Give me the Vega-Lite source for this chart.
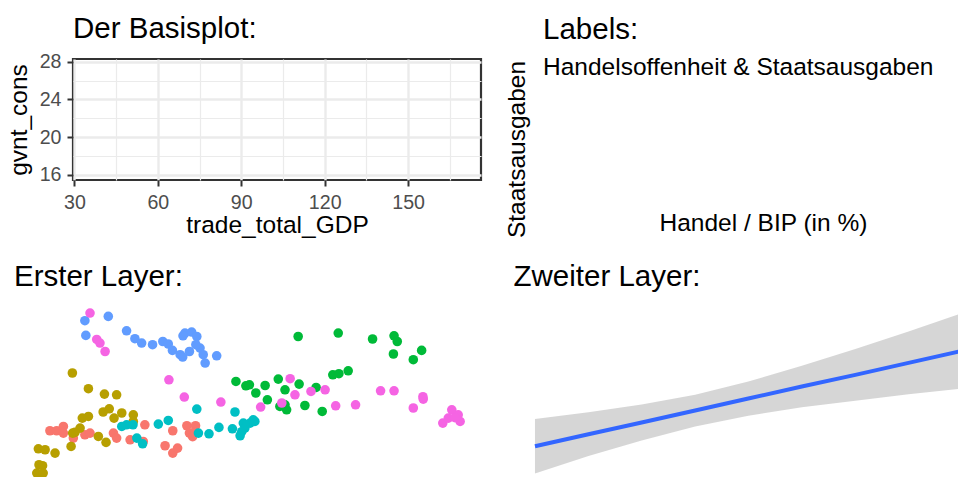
{
  "$schema": "https://vega.github.io/schema/vega-lite/v6.json",
  "padding": {"left": 5, "top": 13, "right": 0, "bottom": 0},
  "background": "white",
  "config": {
    "font": "Liberation Sans",
    "view": {"stroke": null},
    "title": {"fontSize": 29.5, "fontWeight": "normal", "color": "black", "anchor": "start", "frame": "group", "offset": 13, "subtitleFontSize": 24.5, "subtitleColor": "black", "subtitlePadding": 11, "subtitleFont": "Liberation Sans"},
    "axis": {"titleFontWeight": "normal", "titleFontSize": 24.5, "titleColor": "black"}
  },
  "datasets": {
    "pts": [
      {"land": "A", "trade": 40.7, "gov": 19.22}, {"land": "A", "trade": 42.8, "gov": 19.22}, {"land": "A", "trade": 44.9, "gov": 19.53}, {"land": "A", "trade": 44.9, "gov": 19.05}, {"land": "A", "trade": 48.0, "gov": 18.69}, {"land": "A", "trade": 51.6, "gov": 18.93}, {"land": "A", "trade": 53.2, "gov": 19.05}, {"land": "A", "trade": 60.5, "gov": 19.05}, {"land": "A", "trade": 61.5, "gov": 18.69}, {"land": "A", "trade": 65.7, "gov": 18.57}, {"land": "A", "trade": 70.3, "gov": 19.65}, {"land": "A", "trade": 69.8, "gov": 18.45}, {"land": "A", "trade": 79.0, "gov": 19.22}, {"land": "A", "trade": 76.6, "gov": 18.14}, {"land": "A", "trade": 79.0, "gov": 17.61}, {"land": "A", "trade": 80.5, "gov": 17.97}, {"land": "A", "trade": 83.4, "gov": 19.58}, {"land": "A", "trade": 86.1, "gov": 19.58}, {"land": "A", "trade": 84.2, "gov": 19.05}, {"land": "A", "trade": 85.2, "gov": 18.79}, {"land": "A", "trade": 85.9, "gov": 19.15},
      {"land": "B", "trade": 47.7, "gov": 23.38}, {"land": "B", "trade": 52.7, "gov": 22.25}, {"land": "B", "trade": 57.7, "gov": 21.86}, {"land": "B", "trade": 61.5, "gov": 21.81}, {"land": "B", "trade": 57.3, "gov": 20.57}, {"land": "B", "trade": 59.2, "gov": 20.80}, {"land": "B", "trade": 50.8, "gov": 20.13}, {"land": "B", "trade": 52.7, "gov": 20.25}, {"land": "B", "trade": 63.1, "gov": 20.50}, {"land": "B", "trade": 60.7, "gov": 20.13}, {"land": "B", "trade": 66.7, "gov": 20.37}, {"land": "B", "trade": 66.7, "gov": 19.89}, {"land": "B", "trade": 50.1, "gov": 19.41}, {"land": "B", "trade": 48.5, "gov": 19.10}, {"land": "B", "trade": 47.8, "gov": 19.05}, {"land": "B", "trade": 55.8, "gov": 18.81}, {"land": "B", "trade": 58.2, "gov": 18.38}, {"land": "B", "trade": 47.3, "gov": 18.09}, {"land": "B", "trade": 37.1, "gov": 17.92}, {"land": "B", "trade": 39.2, "gov": 17.85}, {"land": "B", "trade": 42.3, "gov": 17.61}, {"land": "B", "trade": 37.3, "gov": 16.77}, {"land": "B", "trade": 38.4, "gov": 16.70}, {"land": "B", "trade": 36.6, "gov": 16.17}, {"land": "B", "trade": 38.6, "gov": 16.17},
      {"land": "C", "trade": 98.7, "gov": 22.77}, {"land": "C", "trade": 101.8, "gov": 22.46}, {"land": "C", "trade": 102.9, "gov": 22.53}, {"land": "C", "trade": 104.9, "gov": 21.94}, {"land": "C", "trade": 107.8, "gov": 22.48}, {"land": "C", "trade": 108.5, "gov": 21.45}, {"land": "C", "trade": 111.9, "gov": 22.94}, {"land": "C", "trade": 114.0, "gov": 22.17}, {"land": "C", "trade": 118.4, "gov": 22.58}, {"land": "C", "trade": 118.1, "gov": 26.01}, {"land": "C", "trade": 123.7, "gov": 22.34}, {"land": "C", "trade": 112.4, "gov": 20.97}, {"land": "C", "trade": 114.0, "gov": 21.09}, {"land": "C", "trade": 114.5, "gov": 20.73}, {"land": "C", "trade": 120.2, "gov": 21.04}, {"land": "C", "trade": 125.6, "gov": 20.61}, {"land": "C", "trade": 128.9, "gov": 23.25}, {"land": "C", "trade": 130.8, "gov": 23.33}, {"land": "C", "trade": 133.7, "gov": 23.54}, {"land": "C", "trade": 130.6, "gov": 26.26}, {"land": "C", "trade": 141.3, "gov": 25.83}, {"land": "C", "trade": 148.0, "gov": 26.06}, {"land": "C", "trade": 149.0, "gov": 25.65}, {"land": "C", "trade": 147.8, "gov": 24.75}, {"land": "C", "trade": 154.0, "gov": 24.34}, {"land": "C", "trade": 156.6, "gov": 25.01},
      {"land": "D", "trade": 63.1, "gov": 19.53}, {"land": "D", "trade": 64.6, "gov": 19.65}, {"land": "D", "trade": 66.6, "gov": 19.65}, {"land": "D", "trade": 67.8, "gov": 18.69}, {"land": "D", "trade": 69.6, "gov": 18.28}, {"land": "D", "trade": 74.5, "gov": 19.70}, {"land": "D", "trade": 77.6, "gov": 19.96}, {"land": "D", "trade": 86.5, "gov": 20.78}, {"land": "D", "trade": 87.0, "gov": 19.05}, {"land": "D", "trade": 90.3, "gov": 19.00}, {"land": "D", "trade": 93.4, "gov": 19.46}, {"land": "D", "trade": 97.6, "gov": 19.36}, {"land": "D", "trade": 98.4, "gov": 20.57}, {"land": "D", "trade": 100.0, "gov": 18.86}, {"land": "D", "trade": 101.0, "gov": 19.77}, {"land": "D", "trade": 101.5, "gov": 19.41}, {"land": "D", "trade": 103.1, "gov": 19.77}, {"land": "D", "trade": 104.1, "gov": 20.01}, {"land": "D", "trade": 104.6, "gov": 19.89}, {"land": "D", "trade": 100.5, "gov": 19.15},
      {"land": "E", "trade": 51.6, "gov": 27.15}, {"land": "E", "trade": 58.9, "gov": 27.46}, {"land": "E", "trade": 51.9, "gov": 26.09}, {"land": "E", "trade": 64.6, "gov": 26.42}, {"land": "E", "trade": 67.2, "gov": 25.85}, {"land": "E", "trade": 69.3, "gov": 25.54}, {"land": "E", "trade": 72.7, "gov": 25.42}, {"land": "E", "trade": 75.9, "gov": 25.65}, {"land": "E", "trade": 77.6, "gov": 25.47}, {"land": "E", "trade": 78.9, "gov": 25.01}, {"land": "E", "trade": 81.3, "gov": 24.70}, {"land": "E", "trade": 82.1, "gov": 24.53}, {"land": "E", "trade": 84.2, "gov": 24.93}, {"land": "E", "trade": 82.8, "gov": 26.26}, {"land": "E", "trade": 84.9, "gov": 26.33}, {"land": "E", "trade": 86.5, "gov": 26.01}, {"land": "E", "trade": 82.2, "gov": 26.06}, {"land": "E", "trade": 87.5, "gov": 25.18}, {"land": "E", "trade": 88.5, "gov": 24.70}, {"land": "E", "trade": 89.1, "gov": 24.10}, {"land": "E", "trade": 92.7, "gov": 24.62}, {"land": "E", "trade": 86.2, "gov": 25.42},
      {"land": "F", "trade": 53.2, "gov": 27.70}, {"land": "F", "trade": 55.3, "gov": 25.80}, {"land": "F", "trade": 56.3, "gov": 25.54}, {"land": "F", "trade": 57.9, "gov": 24.93}, {"land": "F", "trade": 77.8, "gov": 22.89}, {"land": "F", "trade": 82.6, "gov": 21.65}, {"land": "F", "trade": 94.0, "gov": 21.29}, {"land": "F", "trade": 115.6, "gov": 22.97}, {"land": "F", "trade": 117.1, "gov": 21.81}, {"land": "F", "trade": 122.1, "gov": 22.05}, {"land": "F", "trade": 126.5, "gov": 22.17}, {"land": "F", "trade": 106.4, "gov": 20.93}, {"land": "F", "trade": 113.0, "gov": 21.22}, {"land": "F", "trade": 129.8, "gov": 21.02}, {"land": "F", "trade": 136.0, "gov": 21.09}, {"land": "F", "trade": 143.8, "gov": 22.10}, {"land": "F", "trade": 148.0, "gov": 22.10}, {"land": "F", "trade": 154.0, "gov": 20.86}, {"land": "F", "trade": 157.1, "gov": 21.50}, {"land": "F", "trade": 157.0, "gov": 21.67}, {"land": "F", "trade": 163.2, "gov": 19.77}, {"land": "F", "trade": 164.9, "gov": 20.13}, {"land": "F", "trade": 166.0, "gov": 20.73}, {"land": "F", "trade": 168.0, "gov": 20.37}, {"land": "F", "trade": 168.6, "gov": 19.89}, {"land": "F", "trade": 167.0, "gov": 20.16}
    ],
    "smooth": [
      {"trade": 36.2, "fit": 19.90, "lo": 18.99, "hi": 20.81},
      {"trade": 52.9, "fit": 20.30, "lo": 19.57, "hi": 21.03},
      {"trade": 69.5, "fit": 20.69, "lo": 20.09, "hi": 21.29},
      {"trade": 86.2, "fit": 21.09, "lo": 20.56, "hi": 21.62},
      {"trade": 102.8, "fit": 21.49, "lo": 20.92, "hi": 22.06},
      {"trade": 119.5, "fit": 21.89, "lo": 21.20, "hi": 22.58},
      {"trade": 136.2, "fit": 22.28, "lo": 21.42, "hi": 23.14},
      {"trade": 152.8, "fit": 22.68, "lo": 21.63, "hi": 23.73},
      {"trade": 169.5, "fit": 23.08, "lo": 21.82, "hi": 24.34}
    ]
  },
  "spacing": 22,
  "resolve": {"scale": {"x": "independent", "y": "independent", "color": "independent"}, "axis": {"x": "independent", "y": "independent"}},
  "vconcat": [
    {
      "spacing": 21,
      "resolve": {"scale": {"x": "independent", "y": "independent"}, "axis": {"x": "independent", "y": "independent"}},
      "hconcat": [
        {
          "width": 408,
          "height": 121,
          "title": {"text": "Der Basisplot:", "offset": 7},
          "view": {"stroke": "#333333", "strokeWidth": 2.2},
          "data": {"name": "pts"},
          "mark": {"type": "point", "opacity": 0},
          "encoding": {
            "x": {
              "field": "trade", "type": "quantitative",
              "scale": {"domain": [29.5, 176.2], "nice": false, "zero": false},
              "title": "trade_total_GDP",
              "axis": {
                "values": [30, 45, 60, 75, 90, 105, 120, 135, 150, 165],
                "labelExpr": "datum.value % 30 === 0 ? datum.label : ''",
                "grid": true, "gridColor": "#EBEBEB",
                "gridWidth": {"condition": {"test": "datum.value % 30 === 0", "value": 2.4}, "value": 1.2},
                "tickOpacity": {"condition": {"test": "datum.value % 30 === 0", "value": 1}, "value": 0},
                "domain": false, "tickColor": "#333333", "tickSize": 6, "tickWidth": 2,
                "labelFontSize": 19.6, "labelColor": "#4D4D4D", "labelPadding": 7,
                "labelFlush": false, "labelOverlap": false, "titlePadding": 2
              }
            },
            "y": {
              "field": "gov", "type": "quantitative",
              "scale": {"domain": [15.47, 28.28], "nice": false, "zero": false},
              "title": "gvnt_cons",
              "axis": {
                "values": [16, 18, 20, 22, 24, 26, 28],
                "labelExpr": "datum.value % 4 === 0 ? datum.label : ''",
                "grid": true, "gridColor": "#EBEBEB",
                "gridWidth": {"condition": {"test": "datum.value % 4 === 0", "value": 2.4}, "value": 1.2},
                "tickOpacity": {"condition": {"test": "datum.value % 4 === 0", "value": 1}, "value": 0},
                "domain": false, "tickColor": "#333333", "tickSize": 6, "tickWidth": 2,
                "labelFontSize": 19.6, "labelColor": "#4D4D4D", "labelPadding": 6,
                "labelFlush": false, "labelOverlap": false, "titlePadding": 8
              }
            }
          }
        },
        {
          "width": 440,
          "height": 145.3,
          "title": {"text": "Labels:", "subtitle": "Handelsoffenheit & Staatsausgaben", "offset": -21.9},
          "data": {"name": "pts"},
          "mark": {"type": "point", "opacity": 0},
          "encoding": {
            "x": {
              "field": "trade", "type": "quantitative",
              "scale": {"domain": [29.5, 176.2], "nice": false, "zero": false},
              "title": "Handel / BIP (in %)",
              "axis": {"labels": false, "ticks": false, "domain": false, "grid": false, "titlePadding": 7}
            },
            "y": {
              "field": "gov", "type": "quantitative",
              "scale": {"domain": [15.47, 28.28], "nice": false, "zero": false},
              "title": "Staatsausgaben",
              "axis": {"labels": false, "ticks": false, "domain": false, "grid": false, "titlePadding": 14, "titleY": 90}
            }
          }
        }
      ]
    },
    {
      "spacing": 28.5,
      "resolve": {"scale": {"x": "independent", "y": "independent"}, "axis": {"x": "independent", "y": "independent"}},
      "hconcat": [
        {
          "width": 411.5,
          "height": 177.8,
          "title": {"text": "Erster Layer:", "dx": -59},
          "data": {"name": "pts"},
          "mark": {"type": "circle", "size": 92, "opacity": 1},
          "encoding": {
            "x": {"field": "trade", "type": "quantitative", "scale": {"domain": [29.5, 176.2], "range": [-59, 411.5], "nice": false, "zero": false}, "axis": null},
            "y": {"field": "gov", "type": "quantitative", "scale": {"domain": [15.47, 28.28], "nice": false, "zero": false}, "axis": null},
            "color": {
              "field": "land", "type": "nominal",
              "scale": {"domain": ["A", "B", "C", "D", "E", "F"], "range": ["#F8766D", "#B79F00", "#00BA38", "#00BFC4", "#619CFF", "#F564E3"]},
              "legend": null
            }
          }
        },
        {
          "width": 470,
          "height": 176.6,
          "title": "Zweiter Layer:",
          "data": {"name": "smooth"},
          "layer": [
            {
              "mark": {"type": "area", "color": "#999999", "opacity": 0.4},
              "encoding": {
                "x": {"field": "trade", "type": "quantitative", "scale": {"domain": [29.5, 176.2], "nice": false, "zero": false}, "axis": null},
                "y": {"field": "lo", "type": "quantitative", "scale": {"domain": [18.72, 24.61], "nice": false, "zero": false}, "axis": null},
                "y2": {"field": "hi"}
              }
            },
            {
              "mark": {"type": "line", "color": "#3366FF", "strokeWidth": 4},
              "encoding": {
                "x": {"field": "trade", "type": "quantitative"},
                "y": {"field": "fit", "type": "quantitative"}
              }
            }
          ]
        }
      ]
    }
  ]
}
